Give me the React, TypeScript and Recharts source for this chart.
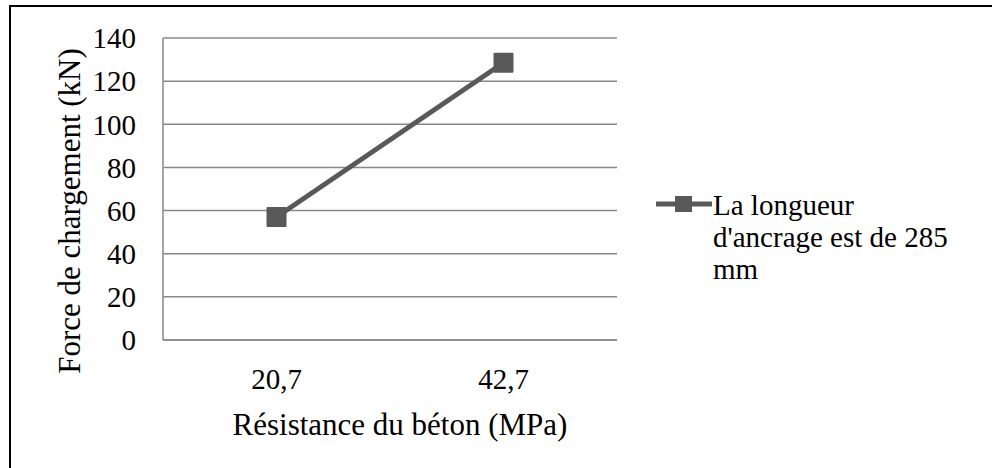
import { LineChart, Line, XAxis, YAxis, CartesianGrid, Legend } from "recharts";

const categories = ["20,7", "42,7"];
const forceValues = [57, 128.5];
const yTicks = [0, 20, 40, 60, 80, 100, 120, 140];
const seriesName = "La longueur d'ancrage est de 285 mm";
const xTitle = "Résistance du béton (MPa)";
const yTitle = "Force de chargement (kN)";

const data = categories.map((c, i) => ({ resistance: c, force: forceValues[i] }));

const FONT = "'Liberation Serif', 'Times New Roman', serif";
const SERIES_COLOR = "#595959";
const GRID_COLOR = "#888888";

function SquareDot(props: any) {
  const { cx, cy } = props;
  if (cx == null || cy == null) return null;
  return <rect x={cx - 10} y={cy - 10} width={20} height={20} fill={SERIES_COLOR} rx={1} />;
}

function YTitle(props: any) {
  const { viewBox } = props;
  const x = viewBox.x + 80;
  const y = viewBox.y + viewBox.height / 2 + 22;
  return (
    <text
      x={x}
      y={y}
      transform={`rotate(-90, ${x}, ${y})`}
      textAnchor="middle"
      style={{ fontFamily: FONT }}
      fontSize={31}
      fill="#000"
    >
      {yTitle}
    </text>
  );
}

function XTitle(props: any) {
  const { viewBox } = props;
  const x = viewBox.x + viewBox.width / 2 + 10;
  const y = viewBox.y + 95;
  return (
    <text x={x} y={y} textAnchor="middle" style={{ fontFamily: FONT }} fontSize={31} fill="#000">
      {xTitle}
    </text>
  );
}

function LegendContent({ payload }: any) {
  return (
    <div style={{ fontFamily: FONT, fontSize: 29, lineHeight: "32px", color: "#000" }}>
      {(payload ?? []).map((p: any) => (
        <div key={p.value} style={{ display: "flex", alignItems: "flex-start" }}>
          <svg width={58} height={32} style={{ flex: "none" }}>
            <line x1={1} y1={15} x2={57} y2={15} stroke={SERIES_COLOR} strokeWidth={5} />
            <rect x={20} y={7} width={17} height={16} fill={SERIES_COLOR} />
          </svg>
          <div style={{ width: 8.25 * 29 }}>{p.value}</div>
        </div>
      ))}
    </div>
  );
}

export default function App() {
  return (
    <div
      style={{
        position: "fixed",
        left: 0,
        top: 0,
        width: 992,
        height: 468,
        overflow: "hidden",
        background: "#fff",
      }}
    >
      <div
        style={{
          position: "absolute",
          left: 9,
          top: 5,
          width: 1100,
          height: 600,
          border: "2px solid #000",
        }}
      />
      <div style={{ position: "absolute", left: 0, top: 0 }}>
        <LineChart
          width={992}
          height={468}
          data={data}
          margin={{ top: 38, right: 375, bottom: 68, left: 0 }}
        >
          <CartesianGrid vertical={false} stroke={GRID_COLOR} strokeWidth={1.5} />
          <XAxis
            dataKey="resistance"
            scale="band"
            height={60}
            tickLine={false}
            axisLine={{ stroke: GRID_COLOR, strokeWidth: 1.5 }}
            tickSize={0}
            tickMargin={28}
            tick={{ fontFamily: FONT, fontSize: 29, fill: "#000" }}
            label={<XTitle />}
          />
          <YAxis
            width={163}
            domain={[0, 140]}
            ticks={yTicks}
            tickLine={false}
            axisLine={{ stroke: GRID_COLOR, strokeWidth: 1.5 }}
            tickSize={0}
            tickMargin={27}
            tick={{ fontFamily: FONT, fontSize: 29, fill: "#000" }}
            label={<YTitle />}
          />
          <Legend
            layout="horizontal"
            verticalAlign="middle"
            align="center"
            wrapperStyle={{ left: 655, top: 189, width: 320 }}
            content={<LegendContent />}
          />
          <Line
            type="linear"
            dataKey="force"
            name={seriesName}
            stroke={SERIES_COLOR}
            strokeWidth={5}
            dot={<SquareDot />}
            activeDot={false}
            isAnimationActive={false}
          />
        </LineChart>
      </div>
    </div>
  );
}
